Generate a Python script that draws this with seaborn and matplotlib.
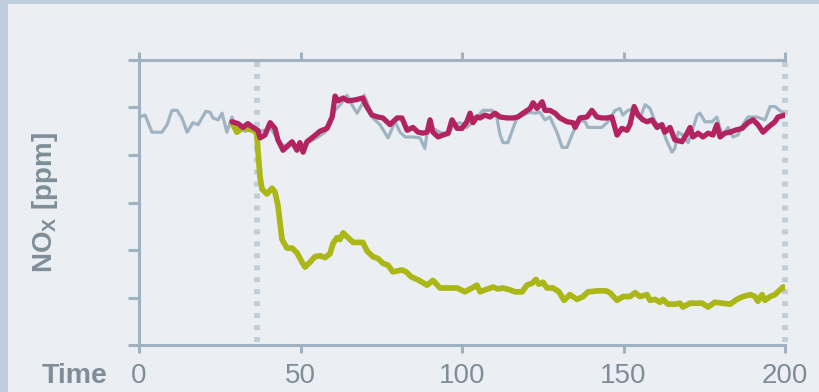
import matplotlib
matplotlib.use("Agg")
import matplotlib.pyplot as plt
import seaborn as sns
import pandas as pd
from matplotlib.patches import Rectangle

# ---------------- data ----------------
x_ticks = [0, 50, 100, 150, 200]
y_ticks = [0, 50, 100, 150, 200, 250, 300]
marker_times = [36.5, 200]

gray_t = [0, 1.9, 4.0, 7.1, 8.7, 10.2, 11.8, 13.3, 14.9, 16.7, 18.3, 20.7, 22.0, 22.9, 24.5,
          25.7, 27.2, 28.8, 30.0, 31.3, 32.8, 35.0, 36.8, 39.0, 40.6, 42.1, 43.7, 45.8, 47.7,
          49.2, 50.8, 52.9, 55.4, 57.6, 59.1, 60.7, 62.8, 64.4, 65.9, 67.5, 69.0, 69.7, 70.6,
          72.4, 74.6, 77.1, 79.3, 80.8, 82.4, 84.8, 87.0, 88.5, 89.2, 91.0, 93.2, 95.7, 97.2,
          99.4, 101.5, 103.4, 106.5, 109.3, 110.8, 111.8, 112.7, 114.2, 115.8, 117.0, 118.9,
          121.1, 122.6, 124.1, 125.7, 127.2, 129.4, 131.0, 132.5, 134.4, 136.5, 138.1, 139.0,
          143.3, 144.9, 147.4, 148.9, 149.8, 151.4, 153.6, 155.1, 156.7, 158.2, 159.8, 161.9,
          163.5, 165.0, 165.9, 166.9, 168.4, 170.0, 171.5, 172.8, 173.7, 175.2, 177.4, 178.9,
          179.9, 180.8, 182.4, 183.9, 185.4, 187.0, 188.5, 191.3, 193.8, 195.4, 196.9, 199.4, 200]
gray_v = [240, 242, 224, 224, 232, 247, 247, 239, 224, 234, 232, 246, 245, 239, 237,
          244, 224, 240, 228, 228, 225, 227, 225, 226, 229, 221, 213, 207, 213,
          205, 211, 214, 219, 224, 232, 247, 255, 263, 253, 244, 253, 263, 256,
          239, 232, 218, 235, 224, 219, 219, 218, 207, 224, 228, 224, 221, 232,
          234, 229, 235, 247, 247, 239, 221, 213, 213, 228, 239, 242,
          245, 244, 245, 237, 240, 224, 208, 208, 224, 237, 235, 229,
          229, 234, 247, 249, 242, 247, 249, 239, 253, 249, 235, 228,
          214, 203, 207, 224, 221, 213, 228, 242, 244, 235, 235, 240,
          228, 221, 229, 219, 221, 232, 240, 240, 237, 251, 251, 244, 242]

mag_t = [28.8, 30.7, 32.2, 33.7, 35.3, 36.8, 37.5, 39.0, 40.6, 42.1, 43.0, 44.6, 45.8, 47.4,
         48.9, 49.8, 50.8, 52.0, 53.9, 56.0, 58.2, 59.8, 60.7, 61.6, 63.2, 64.7, 66.9, 69.3,
         70.3, 72.1, 74.0, 75.5, 77.7, 79.9, 81.4, 83.0, 84.8, 86.4, 87.9, 89.2, 90.1, 91.0,
         92.6, 94.1, 95.7, 96.9, 98.5, 100.0, 101.5, 102.5, 103.4, 104.6, 105.6, 107.1, 108.7,
         110.2, 111.8, 113.9, 115.8, 117.3, 118.9, 121.1, 122.0, 123.2, 124.8, 125.7, 127.2,
         128.8, 130.3, 132.5, 134.4, 135.0, 136.5, 138.7, 140.2, 141.8, 143.3, 144.9, 146.4,
         148.0, 149.5, 151.1, 152.0, 153.3, 154.5, 156.0, 157.3, 158.8, 160.4, 161.9, 162.8,
         164.4, 165.9, 168.1, 169.7, 170.6, 171.5, 173.1, 174.6, 176.2, 177.7, 178.9, 179.9,
         181.4, 183.0, 184.5, 186.7, 188.5, 190.1, 191.6, 193.2, 194.7, 196.9, 197.8, 200]
mag_v = [235, 233, 229, 233, 229, 226, 218, 221, 234, 228, 216, 205, 209, 214,
         205, 213, 203, 214, 219, 225, 228, 240, 262, 257, 260, 257, 258, 260,
         252, 242, 240, 239, 232, 239, 239, 226, 229, 224, 223, 224, 237, 224,
         219, 221, 223, 237, 228, 228, 235, 244, 234, 240, 239, 242, 240,
         244, 240, 239, 239, 240, 244, 249, 255, 249, 256, 247, 247,
         244, 239, 235, 234, 229, 239, 240, 247, 240, 239, 239, 240,
         221, 228, 226, 232, 251, 242, 237, 235, 237, 229, 232, 224,
         229, 216, 214, 223, 229, 219, 223, 219, 223, 221, 232, 219,
         223, 224, 226, 228, 234, 237, 232, 224, 229, 235, 240, 242]

olive_t = [29.1, 30.3, 32.2, 34.1, 35.6, 36.5, 36.8, 37.2, 37.5, 38.1, 39.6, 41.2, 42.1, 43.0,
           44.3, 45.8, 47.4, 48.9, 50.5, 51.4, 52.9, 54.5, 56.0, 57.6, 59.1, 60.1, 61.3, 62.2,
           63.2, 64.4, 66.3, 67.8, 69.3, 70.6, 72.4, 74.0, 75.5, 77.1, 78.6, 81.4, 82.7, 84.2,
           86.7, 89.2, 91.0, 93.2, 96.3, 98.5, 100.9, 103.1, 104.6, 105.6, 107.1, 109.6, 111.1,
           112.7, 114.9, 116.4, 118.6, 120.1, 121.7, 122.9, 123.8, 125.1, 126.3, 128.2, 130.0,
           131.6, 133.4, 135.6, 137.5, 139.0, 142.1, 144.6, 145.8, 148.0, 149.8, 152.0, 153.6,
           155.1, 157.3, 158.2, 159.8, 161.3, 162.2, 163.8, 165.9, 167.5, 168.4, 170.6, 172.8,
           174.3, 176.2, 178.3, 180.5, 183.0, 185.1, 187.0, 189.2, 190.7, 191.6, 192.9, 193.8,
           195.4, 196.9, 197.8, 199.4, 200]
olive_v = [232, 224, 229, 227, 226, 222, 205, 189, 176, 164, 159, 165, 161, 147,
           111, 102, 102, 97, 87, 82, 87, 93, 94, 92, 96, 107, 113, 111,
           118, 114, 108, 108, 108, 99, 93, 91, 86, 84, 77, 79, 77, 72,
           68, 63, 68, 60, 60, 60, 56, 60, 63, 56, 58, 61, 59,
           60, 58, 56, 56, 63, 65, 69, 64, 66, 60, 60, 56,
           47, 53, 48, 51, 56, 57, 57, 55, 47, 51, 51, 55,
           51, 53, 47, 48, 45, 48, 43, 43, 44, 40, 44, 44,
           44, 40, 45, 44, 43, 48, 51, 53, 51, 46, 53, 47,
           51, 53, 56, 61, 60]

# ---------------- style ----------------
BG = "#ebeff3"
BORDER = "#bfcedb"
SPINE = "#a0b2c1"
TXT = "#7f8d99"
GRAY = "#a0b3c3"
MAGENTA = "#b2235f"
OLIVE = "#abb617"
DOT = "#c0cdd8"

sns.set_style("ticks")
plt.rcParams["font.family"] = ["Liberation Sans", "DejaVu Sans"]
plt.rcParams["mathtext.fontset"] = "custom"
plt.rcParams["mathtext.rm"] = "Liberation Sans"
plt.rcParams["mathtext.bf"] = "Liberation Sans:bold"

fig = plt.figure(figsize=(8.2, 3.92), dpi=100, facecolor=BG)
fig.patches.append(Rectangle((0, 0), 8 / 820, 1, transform=fig.transFigure,
                             facecolor=BORDER, edgecolor="none", zorder=0))
fig.patches.append(Rectangle((0, 1 - 4 / 392), 1, 4 / 392, transform=fig.transFigure,
                             facecolor=BORDER, edgecolor="none", zorder=0))

ax = fig.add_axes([139 / 820, 47 / 392, 646 / 820, 285 / 392])
ax.set_facecolor(BG)

for tm in marker_times:
    ax.axvline(tm, ymin=0.01, ymax=1, color=DOT, lw=4.2,
               linestyle=(0, (0.85, 1.2)), zorder=1, clip_on=False)

gray_df = pd.DataFrame({"t": gray_t, "v": gray_v})
mag_df = pd.DataFrame({"t": mag_t, "v": mag_v})
olive_df = pd.DataFrame({"t": olive_t, "v": olive_v})

sns.lineplot(data=gray_df, x="t", y="v", ax=ax, color=GRAY, lw=2.3, zorder=2)
sns.lineplot(data=olive_df, x="t", y="v", ax=ax, color=OLIVE, lw=4.1, zorder=3)
sns.lineplot(data=mag_df, x="t", y="v", ax=ax, color=MAGENTA, lw=3.8, zorder=4)
for ln in ax.lines:
    ln.set_solid_joinstyle("round")
    ln.set_solid_capstyle("round")

ax.set_xlim(0, 200)
ax.set_ylim(0, 300)
ax.set_xticks(x_ticks)
ax.set_yticks(y_ticks)
ax.set_xticklabels([str(v) for v in x_ticks])
ax.set_yticklabels([])

ax.spines["right"].set_visible(False)
for s in ["left", "top", "bottom"]:
    ax.spines[s].set_visible(True)
    ax.spines[s].set_color(SPINE)
    ax.spines[s].set_linewidth(2.2)

ax.tick_params(axis="x", which="both", bottom=True, top=True, direction="out",
               length=5.5, width=2.2, color=SPINE, labelsize=20, labelcolor=TXT, pad=7.5)
ax.tick_params(axis="y", left=True, right=False, direction="out", length=8,
               width=2.2, color=SPINE, labelleft=False)

ax.set_xlabel("")
ax.set_ylabel(r"NO$_\mathbf{X}$ [ppm]", fontsize=20, fontweight="bold", color=TXT)
ax.yaxis.set_label_coords(-0.122, 0.5)

ax.text(-0.048, -0.1333, "Time", transform=ax.transAxes, ha="right", va="baseline",
        fontsize=20.5, fontweight="bold", color=TXT)

fig.savefig("out.png", dpi=100, facecolor=BG)
